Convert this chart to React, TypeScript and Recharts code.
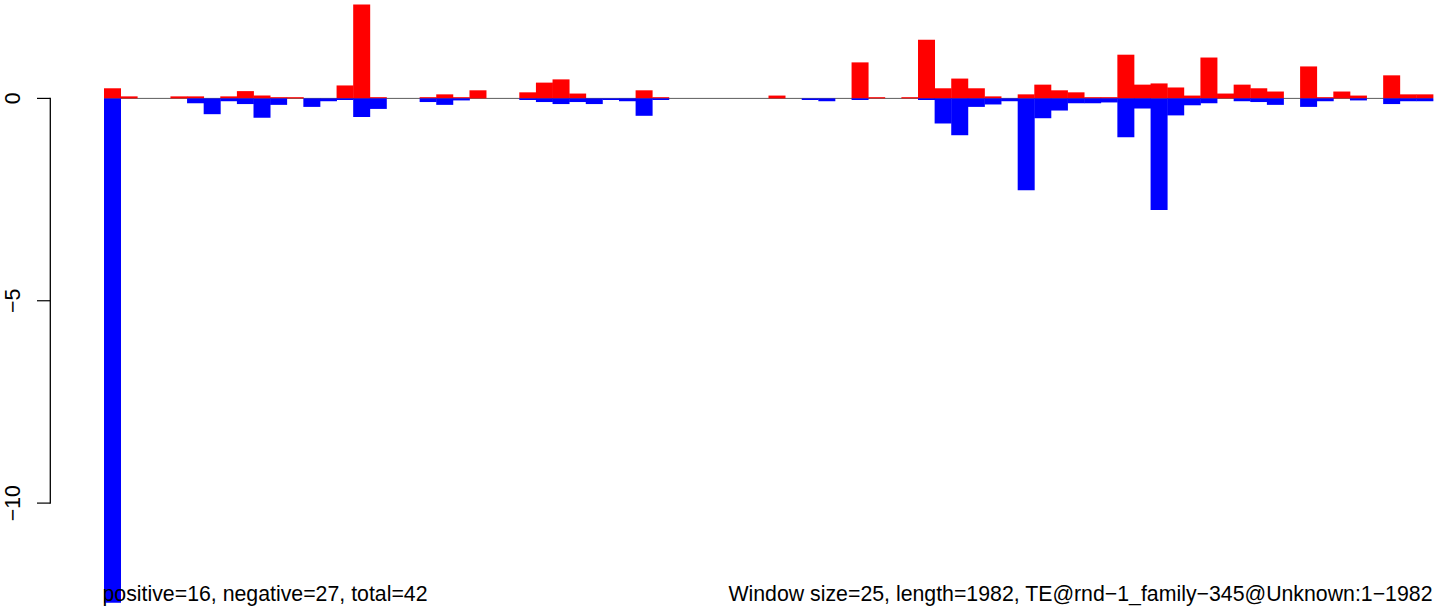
import { BarChart, Bar, XAxis, YAxis, ReferenceLine } from "recharts";

// per-window scores, 25 bp windows along a 1982 bp element
const positive = [
  0.25, 0.05, 0, 0, 0.05, 0.05, 0, 0.05, 0.18, 0.07,
  0.03, 0.03, 0, 0, 0.32, 2.32, 0.03, 0, 0, 0.03,
  0.1, 0.03, 0.2, 0, 0, 0.15, 0.39, 0.47, 0.12, 0,
  0, 0, 0.2, 0.03, 0, 0, 0, 0, 0, 0,
  0.07, 0, 0, 0, 0, 0.89, 0.03, 0, 0.03, 1.45,
  0.25, 0.49, 0.25, 0.05, 0, 0.1, 0.34, 0.2, 0.15, 0.03,
  0.03, 1.08, 0.34, 0.37, 0.27, 0.07, 1.01, 0.12, 0.34, 0.25,
  0.17, 0, 0.79, 0.03, 0.17, 0.07, 0, 0.57, 0.1, 0.1,
];
const negative = [
  -12.46, 0, 0, 0, 0, -0.12, -0.39, -0.07, -0.14, -0.48,
  -0.16, 0, -0.21, -0.07, -0.04, -0.46, -0.26, 0, 0, -0.09,
  -0.16, -0.05, 0, 0, 0, -0.04, -0.09, -0.14, -0.09, -0.14,
  -0.04, -0.07, -0.43, -0.04, 0, 0, 0, 0, 0, 0,
  0, 0, -0.04, -0.07, 0, -0.04, 0, 0, 0, -0.04,
  -0.62, -0.91, -0.21, -0.15, -0.07, -2.27, -0.49, -0.3, -0.12, -0.12,
  -0.1, -0.96, -0.25, -2.76, -0.42, -0.17, -0.12, 0, -0.07, -0.09,
  -0.16, 0, -0.21, -0.07, 0, -0.05, 0, -0.14, -0.07, -0.07,
];
const windows = positive.map((_, i) => i + 1);
const yTicks = [0, -5, -10];
const leftNote = "positive=16, negative=27, total=42";
const rightNote =
  "Window size=25, length=1982, TE@rnd\u22121_family\u2212345@Unknown:1\u22121982";

const data = windows.map((w, i) => ({ win: w, pos: positive[i], neg: negative[i] }));

const FONT = '"Liberation Sans", Arial, Helvetica, sans-serif';
const FS = 21.3;
const W = 1452;
const H = 613;
const Y_MIN = -12.7156;
const Y_MAX = 2.4314;
const AXIS_W = 50;
const TICK_SIZE = 13;
const TICK_MARGIN = 17;

// same linear mapping the y axis uses (plot spans the full chart height)
const yPix = (v: number) => ((Y_MAX - v) / (Y_MAX - Y_MIN)) * H;

function YTick(props: any) {
  const tx = Number(props.x);
  const ty = Number(props.y);
  const value = props.payload?.value;
  const label = String(value).replace("-", "\u2212");
  return (
    <text
      x={tx}
      y={ty}
      transform={`rotate(-90, ${tx}, ${ty})`}
      textAnchor="middle"
      fontFamily={FONT}
      fontSize={FS}
      fill="#000"
    >
      {label}
    </text>
  );
}

export default function App() {
  const lastWin = windows[windows.length - 1];
  const yTop = yPix(Math.max(...yTicks));
  const yBottom = yPix(Math.min(...yTicks));
  return (
    <div style={{ position: "absolute", left: 0, top: 0, width: W, height: H, background: "#fff" }}>
      <BarChart
        width={W}
        height={H}
        data={data}
        margin={{ top: 0, right: 19, bottom: 0, left: 0 }}
        barCategoryGap={0}
        barGap={0}
        stackOffset="sign"
      >
        <XAxis dataKey="win" hide padding={{ left: 54, right: 0 }} />
        <XAxis
          xAxisId="base"
          dataKey="win"
          type="number"
          domain={[0.5, lastWin + 0.5]}
          allowDataOverflow
          hide
          padding={{ left: 54, right: 0 }}
        />
        <YAxis
          type="number"
          domain={[Y_MIN, Y_MAX]}
          allowDataOverflow
          ticks={yTicks}
          interval={0}
          width={AXIS_W}
          axisLine={false}
          tickSize={TICK_SIZE}
          tickMargin={TICK_MARGIN}
          tickLine={{ stroke: "#000", strokeWidth: 1.2 }}
          tick={YTick}
        />
        <ReferenceLine
          xAxisId="base"
          segment={[{ x: 0.5, y: 0 }, { x: lastWin + 0.5, y: 0 }]}
          ifOverflow="visible"
          stroke="#5c5c5c"
          strokeWidth={1}
          zIndex={100}
        />
        <Bar dataKey="pos" stackId="s" fill="#ff0000" isAnimationActive={false} />
        <Bar dataKey="neg" stackId="s" fill="#0000ff" isAnimationActive={false} />
      </BarChart>
      <svg
        width={W}
        height={H}
        style={{ position: "absolute", left: 0, top: 0, pointerEvents: "none" }}
      >
        {/* R-style axis line: only between the outer ticks */}
        <line
          x1={AXIS_W + 0.3}
          x2={AXIS_W + 0.3}
          y1={yTop - 0.6}
          y2={yBottom + 0.6}
          stroke="#000"
          strokeWidth={1.3}
        />
        <text x={102.5} y={601} fontFamily={FONT} fontSize={FS} fill="#000">
          {leftNote}
        </text>
        <text x={1432.5} y={601} textAnchor="end" fontFamily={FONT} fontSize={FS} fill="#000">
          {rightNote}
        </text>
      </svg>
    </div>
  );
}
